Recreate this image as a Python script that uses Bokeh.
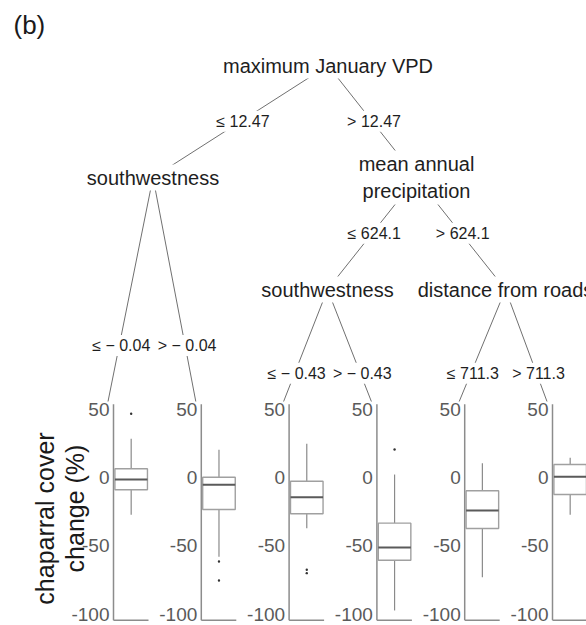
import math
from bokeh.plotting import figure
from bokeh.models import Range1d
from bokeh.embed import file_html
from bokeh.resources import INLINE
from bokeh.core.properties import value

# ---- tree structure -------------------------------------------------------
split_labels = ["maximum January VPD", "southwestness",
                "mean annual\nprecipitation", "southwestness",
                "distance from roads"]
edge_labels = ["≤ 12.47", "> 12.47",
               "≤ − 0.04", "> − 0.04",
               "≤ 624.1", "> 624.1",
               "≤ − 0.43", "> − 0.43",
               "≤ 711.3", "> 711.3"]
# (parent, child) ; children "T#" are terminal nodes
edges = [(0, 1), (0, 2), (1, "T0"), (1, "T1"), (2, 3), (2, 4),
         (3, "T2"), (3, "T3"), (4, "T4"), (4, "T5")]

# ---- terminal node summaries: chaparral cover change (%) -------------------
whisker_low = [-27.2, -58.0, -37.0, -97.4, -73.0, -27.2]
quartile_1 = [-8.8, -23.3, -26.4, -60.5, -37.2, -12.3]
median = [-1.2, -5.1, -14.2, -51.2, -24.0, 0.7]
quartile_3 = [6.6, 0.4, -2.5, -33.3, -9.5, 9.8]
whisker_high = [28.6, 20.6, 25.0, 2.4, 10.7, 14.7]
outlier_node = [0, 1, 1, 2, 2, 3]
outlier_value = [47.0, -61.5, -75.4, -67.5, -70.0, 20.8]
y_ticks = [50, 0, -50, -100]
y_tick_labels = ["50", "0", "-50", "-100"]
y_limits = (-104.5, 54.0)

# ---- page layout (pixels from the top-left corner) -------------------------
W, H = 586, 625
FONT = value("Liberation Sans")
node_xy = {0: (327.5, 65), 1: (152.5, 177), 2: (416, 177),
           3: (327, 289), 4: (505, 289)}
edge_label_y = [120.7, 120.7, 345, 345, 232.7, 232.7,
                372.7, 372.7, 372.7, 372.7]
panel_left = [113 + 87.8 * i for i in range(6)]
panel_w = 35.0
panel_top = 401
# percentage scale: value 0 at 477.3 px, 1.362 px per percent
pct_zero, pct_px = 477.3, 1.362

p = figure(width=W, height=H, x_range=Range1d(0, W), y_range=Range1d(H, 0),
           x_axis_type=None, y_axis_type=None, toolbar_location=None,
           output_backend="svg", min_border=0, outline_line_color=None,
           background_fill_color="white", border_fill_color="white")
p.grid.visible = False

p.extra_y_ranges = {"pct": Range1d(start=(pct_zero - H) / pct_px,
                                   end=pct_zero / pct_px)}
p.extra_x_ranges = {f"t{i}": Range1d(start=-x0 / panel_w, end=(W - x0) / panel_w)
                    for i, x0 in enumerate(panel_left)}


def anchor(n):
    if isinstance(n, str):
        i = int(n[1:])
        return (panel_left[i] - 5.5, panel_top)
    return node_xy[n]


# ---- tree edges -------------------------------------------------------------
ex0, ey0, ex1, ey1, lx, ly = [], [], [], [], [], []
for (a, b), yl in zip(edges, edge_label_y):
    (x0, y0), (x1, y1) = anchor(a), anchor(b)
    ex0.append(x0); ey0.append(y0); ex1.append(x1); ey1.append(y1)
    t = (yl - y0) / (y1 - y0)
    lx.append(x0 + t * (x1 - x0) + 2)
    ly.append(yl)
p.segment(x0=ex0, y0=ey0, x1=ex1, y1=ey1, line_color="#707070", line_width=1)

p.text(x=lx, y=ly, text=edge_labels, text_font=FONT, text_font_size="16px",
       text_color="#1e1e1e", text_align="center", text_baseline="middle",
       background_fill_color="white", padding=2)

nx = [node_xy[k][0] for k in range(len(split_labels))]
ny = [node_xy[k][1] for k in range(len(split_labels))]
p.text(x=nx, y=ny, text=split_labels, text_font=FONT, text_font_size="20px",
       text_color="#1e1e1e", text_align="center", text_baseline="middle",
       text_line_height=1.27, background_fill_color="white", padding=2)

# ---- terminal box plots -----------------------------------------------------
box_l, box_r = 0.04, 0.97
mid = (box_l + box_r) / 2
for i in range(6):
    xr = f"t{i}"
    kw = dict(x_range_name=xr, y_range_name="pct")
    # axis line and baseline
    p.segment(x0=[0, 0], y0=[y_limits[0], y_limits[0]], x1=[0, 1],
              y1=[y_limits[1], y_limits[0]], line_color="#8c8c8c",
              line_width=1.5, **kw)
    p.text(x=[0] * len(y_ticks), y=y_ticks, text=y_tick_labels, x_offset=-4,
           text_font=FONT, text_font_size="19px", text_color="#5a5a5a",
           text_align="right", text_baseline="middle", **kw)
    # whiskers
    p.segment(x0=[mid, mid], y0=[quartile_3[i], quartile_1[i]],
              x1=[mid, mid], y1=[whisker_high[i], whisker_low[i]],
              line_color="#8a8a8a", line_width=1.2, **kw)
    # box
    p.quad(left=[box_l], right=[box_r], bottom=[quartile_1[i]],
           top=[quartile_3[i]], fill_color="white", line_color="#a0a0a0",
           line_width=1.4, **kw)
    # median
    p.segment(x0=[box_l], y0=[median[i]], x1=[box_r], y1=[median[i]],
              line_color="#5a5a5a", line_width=2, **kw)
    # outliers
    ov = [v for n, v in zip(outlier_node, outlier_value) if n == i]
    if ov:
        p.scatter(x=[mid] * len(ov), y=ov, size=2.4, marker="circle",
                  fill_color="#333333", line_color=None, **kw)

# ---- shared y-axis title and panel tag -------------------------------------
p.text(x=[44], y=[518], text=["chaparral cover"], angle=math.pi / 2,
       text_font=FONT, text_font_size="25px", text_color="#1a1a1a",
       text_align="center", text_baseline="middle")
p.text(x=[74], y=[508], text=["change (%)"], angle=math.pi / 2,
       text_font=FONT, text_font_size="25px", text_color="#1a1a1a",
       text_align="center", text_baseline="middle")
p.text(x=[13], y=[24], text=["(b)"], text_font=FONT, text_font_size="26px",
       text_color="#1a1a1a", text_align="left", text_baseline="middle")

open("out.html", "w").write(file_html(p, INLINE))
